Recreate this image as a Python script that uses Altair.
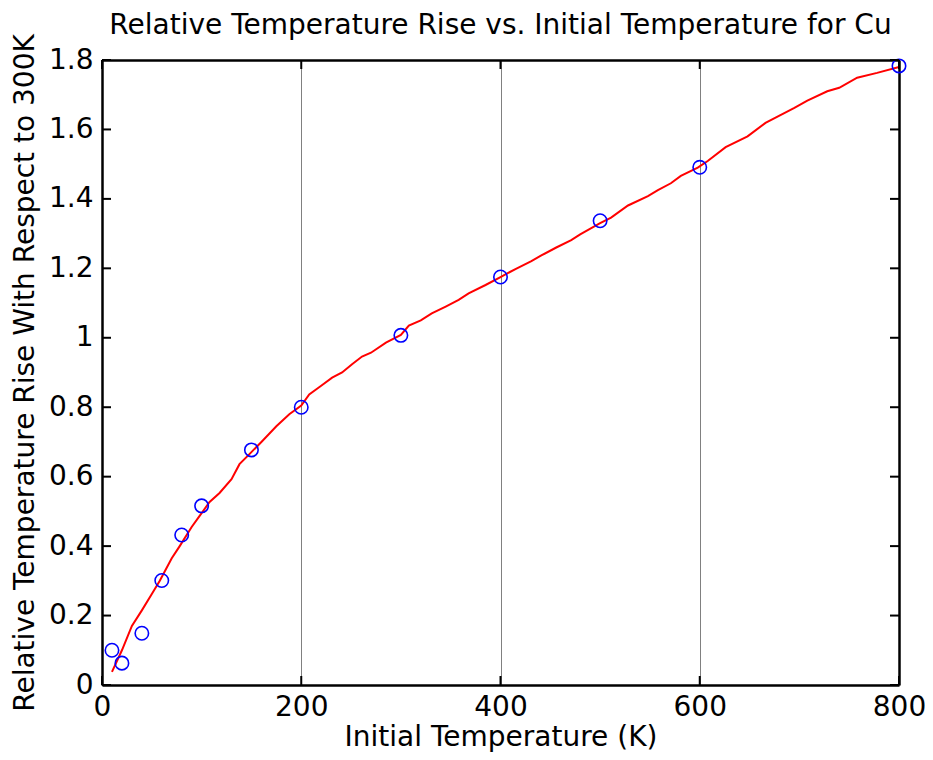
import altair as alt
import pandas as pd

# Red curve (computed/measured relative temperature rise)
line_T = [10, 20, 30, 40, 50, 58, 70, 78, 90, 98, 108, 118, 130, 138, 148, 160, 175, 188,
          200, 208, 220, 231, 241, 251, 261, 270, 285, 300, 308, 320, 331, 345, 358, 368,
          385, 400, 415, 431, 441, 456, 471, 480, 500, 511, 528, 548, 558, 571, 581, 598,
          608, 626, 648, 666, 680, 695, 708, 728, 740, 758, 778, 800]
line_v = [0.038, 0.10, 0.17, 0.215, 0.262, 0.30, 0.365, 0.40, 0.455, 0.487, 0.527, 0.553,
          0.593, 0.636, 0.665, 0.70, 0.745, 0.78, 0.805, 0.837, 0.862, 0.885, 0.90, 0.924,
          0.946, 0.957, 0.986, 1.008, 1.035, 1.05, 1.07, 1.09, 1.109, 1.128, 1.152, 1.175,
          1.198, 1.221, 1.237, 1.26, 1.281, 1.298, 1.33, 1.346, 1.381, 1.408, 1.425, 1.445,
          1.466, 1.49, 1.509, 1.549, 1.58, 1.619, 1.64, 1.662, 1.683, 1.71, 1.72, 1.749,
          1.763, 1.78]

# Blue circles
pt_T = [10, 20, 40, 60, 80, 100, 150, 200, 300, 400, 500, 600, 800]
pt_v = [0.10, 0.063, 0.149, 0.301, 0.432, 0.516, 0.677, 0.80, 1.007, 1.175, 1.337, 1.491, 1.783]

x_ticks = [0, 200, 400, 600, 800]
y_ticks = [0, 0.2, 0.4, 0.6, 0.8, 1.0, 1.2, 1.4, 1.6, 1.8]

W, H = 797, 625
FONT = "DejaVu Sans"
TICK = 9
FRAME = dict(domain=True, domainColor="black", domainWidth=2.5)

line_df = pd.DataFrame({"T": line_T, "v": line_v})
pt_df = pd.DataFrame({"T": pt_T, "v": pt_v})
xt_df = pd.DataFrame({"T": x_ticks})
yt_df = pd.DataFrame({"v": y_ticks})

xscale = alt.Scale(domain=[0, 800], nice=False, zero=False)
yscale = alt.Scale(domain=[0, 1.8], nice=False, zero=False)

x_axis = alt.Axis(values=x_ticks, ticks=False, grid=True, orient="bottom",
                  gridColor="#808080", gridWidth=1, labelFont=FONT, labelFontSize=28,
                  labelColor="black", labelPadding=8, title="Initial Temperature (K)",
                  titleFont=FONT, titleFontSize=28, titleFontWeight="normal",
                  titleColor="black", titlePadding=2, labelFlush=False, **FRAME)
y_axis = alt.Axis(values=y_ticks, ticks=False, grid=False, format="~g", orient="left",
                  labelFont=FONT, labelFontSize=28, labelColor="black", labelPadding=9,
                  title="Relative Temperature Rise With Respect to 300K",
                  titleFont=FONT, titleFontSize=28, titleFontWeight="normal",
                  titleColor="black", titlePadding=9, labelFlush=False, **FRAME)
x_top = alt.Axis(orient="top", labels=False, ticks=False, grid=False, title=None, **FRAME)
y_right = alt.Axis(orient="right", labels=False, ticks=False, grid=False, title=None, **FRAME)

line = alt.Chart(line_df).mark_line(color="#FF0000", strokeWidth=2).encode(
    x=alt.X("T:Q", scale=xscale, axis=x_axis),
    y=alt.Y("v:Q", scale=yscale, axis=y_axis),
)

points = alt.Chart(pt_df).mark_point(shape="circle", filled=False, color="#0000FF",
                                     size=180, strokeWidth=1.6, opacity=1).encode(
    x=alt.X("T:Q", scale=xscale, axis=None),
    y=alt.Y("v:Q", scale=yscale, axis=None),
)

bt = alt.Chart(xt_df).mark_rule(color="black", strokeWidth=2).encode(
    x=alt.X("T:Q", scale=xscale, axis=None), y=alt.value(H), y2=alt.value(H - TICK))
tt = alt.Chart(xt_df).mark_rule(color="black", strokeWidth=2).encode(
    x=alt.X("T:Q", scale=xscale, axis=x_top), y=alt.value(0), y2=alt.value(TICK))
lt = alt.Chart(yt_df).mark_rule(color="black", strokeWidth=2).encode(
    y=alt.Y("v:Q", scale=yscale, axis=None), x=alt.value(0), x2=alt.value(TICK))
rt = alt.Chart(yt_df).mark_rule(color="black", strokeWidth=2).encode(
    y=alt.Y("v:Q", scale=yscale, axis=y_right), x=alt.value(W), x2=alt.value(W - TICK))

chart = alt.layer(line, points, bt, tt, lt, rt).resolve_axis(
    x="independent", y="independent"
).properties(
    width=W, height=H,
    title=alt.TitleParams("Relative Temperature Rise vs. Initial Temperature for Cu",
                          font=FONT, fontSize=28, fontWeight="normal", color="black",
                          anchor="middle", frame="group", offset=8, dy=14),
    autosize=alt.AutoSizeParams(type="none"),
    padding={"left": 94, "top": 52, "right": 26, "bottom": 67},
).configure_view(stroke="black", strokeWidth=2.5).configure(background="white")

chart.save("out.html", embed_options={"renderer": "svg", "actions": False})
